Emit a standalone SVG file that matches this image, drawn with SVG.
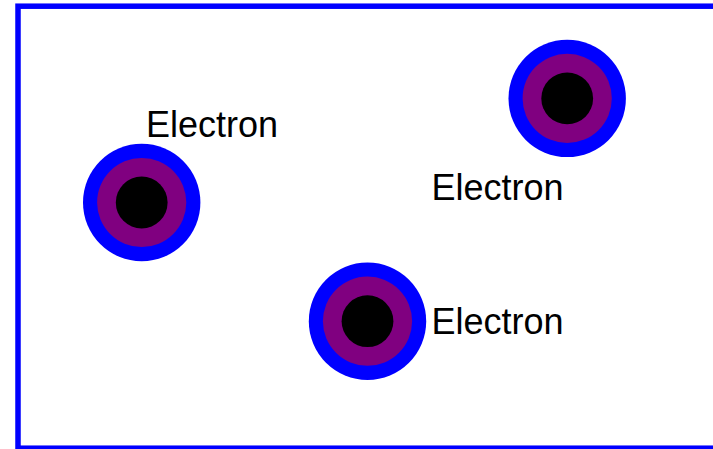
<svg xmlns="http://www.w3.org/2000/svg" width="713" height="449" viewBox="0 0 713 449">
<style>
.frame{fill:#fff;stroke:#0000ff;stroke-width:5.5}
.outer{fill:#0000ff}
.mid{fill:#800080}
.core{fill:#000}
.lbl{font-family:"Liberation Sans",Arial,sans-serif;font-size:36px;fill:#000}
</style>
<rect x="0" y="0" width="713" height="449" fill="#fff"/>
<rect class="frame" x="18" y="6.2" width="720" height="442"/>
<g id="electron1">
<circle class="outer" cx="141.7" cy="202.5" r="58.7"/>
<circle class="mid" cx="141.7" cy="202.5" r="44.6"/>
<circle class="core" cx="141.7" cy="202.5" r="25.9"/>
<text class="lbl" x="146" y="137">Electron</text>
</g>
<g id="electron2">
<circle class="outer" cx="367.5" cy="321.2" r="58.7"/>
<circle class="mid" cx="367.5" cy="321.2" r="44.6"/>
<circle class="core" cx="367.5" cy="321.2" r="25.9"/>
<text class="lbl" x="431.5" y="333.5">Electron</text>
</g>
<g id="electron3">
<circle class="outer" cx="567.2" cy="98.4" r="58.7"/>
<circle class="mid" cx="567.2" cy="98.4" r="44.6"/>
<circle class="core" cx="567.2" cy="98.4" r="25.9"/>
<text class="lbl" x="431.5" y="200">Electron</text>
</g>
<g id="connectors"></g>
</svg>
